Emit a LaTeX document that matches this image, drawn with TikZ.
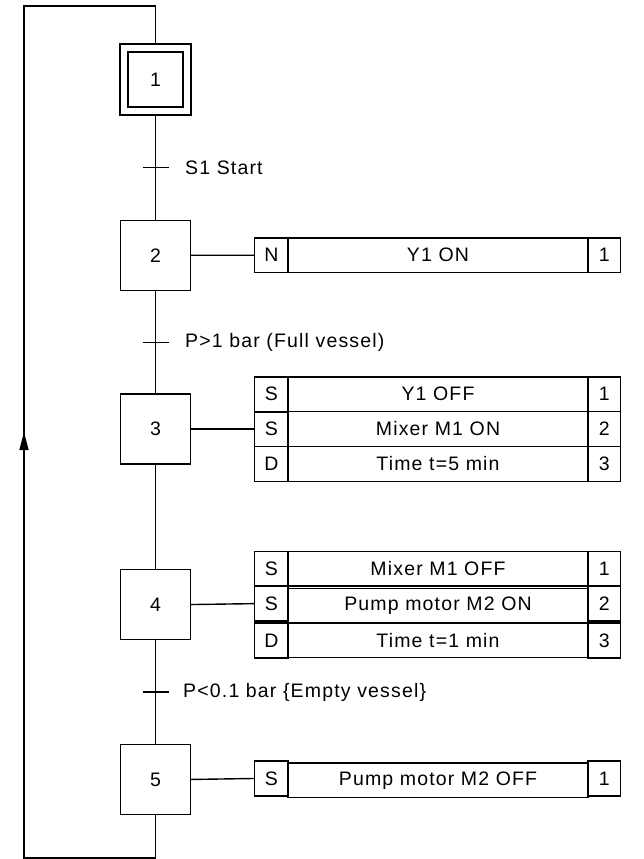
\documentclass[tikz,border=0pt]{standalone}
\usepackage{fontspec}
\setmainfont{Liberation Sans}[LetterSpace=6]
\usetikzlibrary{arrows.meta, positioning, matrix, calc, fit}

\begin{document}
\begin{tikzpicture}[x=1pt, y=-1pt, line width=1.4pt,
    font=\fontsize{19.5}{22}\selectfont,
    stepbox/.style={draw, minimum size=70pt, inner sep=0pt},
    cell/.style={draw, minimum height=34.7pt, inner sep=0pt},
    cond/.style={inner sep=0pt},
    act/.style={matrix of nodes, nodes={cell}, column sep=-\pgflinewidth, row sep=-\pgflinewidth, inner sep=0pt,
        column 1/.style={nodes={minimum width=33.4pt}},
        column 2/.style={nodes={minimum width=300pt}},
        column 3/.style={nodes={minimum width=32.6pt}}}
]
    \useasboundingbox (0,0) rectangle (644,859);

    \node[stepbox, minimum size=54.7pt] (s1) at (155.5,79.5) {1};
    \node[draw, fit=(s1), inner sep=7.3pt] (s1o) {};
    \node[stepbox, below=104pt of s1o] (s2) {2};
    \node[stepbox, below=102.5pt of s2] (s3) {3};
    \node[stepbox, below=104pt of s3] (s4) {4};
    \node[stepbox, below=103.5pt of s4] (s5) {5};

    \matrix (a2) [act, right=62pt of s2]{
        N & Y1 ON & 1 \\
    };
    \matrix (a3) [act, right=62pt of s3]{
        S & Y1 OFF & 1 \\
        S & Mixer M1 ON & 2 \\
        D & Time t=5 min & 3 \\
    };
    \matrix (a4) [act, right=62pt of s4]{
        S & Mixer M1 OFF & 1 \\
        S & Pump motor M2 ON & 2 \\
        D & Time t=1 min & 3 \\
    };
    \matrix (a5) [act, right=62pt of s5]{
        S & Pump motor M2 OFF & 1 \\
    };

    \draw (s2.east) -- (a2-1-1.west);
    \draw (s3.east) -- (a3-2-1.west);
    \draw (s4.east) -- (a4-2-1.west);
    \draw (s5.east) -- (a5-1-1.west);

    \foreach \a/\b in {s1o/s2, s2/s3, s3/s4, s4/s5}
        \draw (\a.south) -- (\b.north);

    \foreach \a/\b/\t in {s1o/s2/t1, s2/s3/t2, s4/s5/t4}{
        \coordinate (\t) at ($(\a.south)!0.5!(\b.north)$);
        \draw ([xshift=-13pt]\t) -- ([xshift=13pt]\t);
    }
    \node[cond, right=29pt of t1] (c1) {S1 Start};
    \node[cond, right=29pt of t2] (c2) {P>1 bar (Full vessel)};
    \node[cond, right=27pt of t4] (c4) {P<0.1 bar \{Empty vessel\}};

    \coordinate (br) at (155.5,858);
    \coordinate (bl) at (24,858);
    \coordinate (tl) at (24,6);
    \coordinate (tr) at (155.5,6);
    \draw (s5.south) -- (br) -- (bl) -- (tl) -- (tr) -- (s1o.north);
    \draw[-{Triangle[length=18pt, width=9pt]}] (bl) -- ($(bl)!0.5!(tl)$);
\end{tikzpicture}
\end{document}
